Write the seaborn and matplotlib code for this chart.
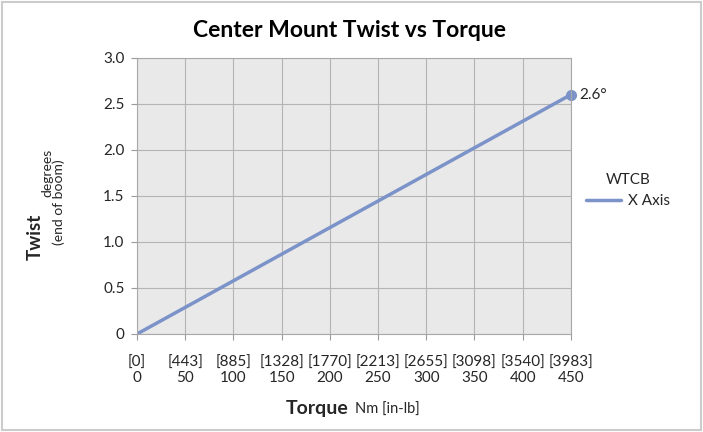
import pandas as pd
import matplotlib.pyplot as plt
import seaborn as sns
from matplotlib.patches import Rectangle

sns.set_style("whitegrid")
plt.rcParams["font.family"] = ["Lato", "DejaVu Sans"]

torque_nm = [0, 450]
twist_deg = [0.0, 2.6]
tick_nm = [0, 50, 100, 150, 200, 250, 300, 350, 400, 450]
tick_inlb = [0, 443, 885, 1328, 1770, 2213, 2655, 3098, 3540, 3983]
y_ticks = [0, 0.5, 1.0, 1.5, 2.0, 2.5, 3.0]
y_labels = ["0", "0.5", "1.0", "1.5", "2.0", "2.5", "3.0"]

df = pd.DataFrame({"Torque": torque_nm, "Twist": twist_deg, "series": "X Axis"})
line_color = "#7b93c8"

fig = plt.figure(figsize=(7.03, 4.32), dpi=100)
ax = fig.add_axes([0.195, 0.227, 0.617, 0.639])
ax.set_facecolor("#e9e9e9")

sns.lineplot(data=df, x="Torque", y="Twist", hue="series", palette=[line_color],
             linewidth=2.5, ax=ax)
ax.plot(torque_nm[-1], twist_deg[-1], "o", color=line_color, markersize=7, clip_on=False)
ax.annotate(f"{twist_deg[-1]}°", (torque_nm[-1], twist_deg[-1]), xytext=(6, 0),
            textcoords="offset points", va="center", ha="left", fontsize=11)

ax.set_xlim(0, 450)
ax.set_ylim(0, 3.0)
ax.set_xticks(tick_nm)
ax.set_xticklabels([f"[{b}]\n{a}" for a, b in zip(tick_nm, tick_inlb)], fontsize=11,
                   linespacing=1.05)
ax.set_yticks(y_ticks)
ax.set_yticklabels(y_labels, fontsize=11)
ax.grid(True, color="#b4b4b4", linewidth=0.8)
ax.tick_params(axis="x", length=4, color="#9a9a9a", direction="out", bottom=True, pad=12)
ax.tick_params(axis="y", length=4, color="#9a9a9a", direction="out", left=True, pad=5)
for s in ax.spines.values():
    s.set_color("#a8a8a8")
    s.set_linewidth(0.8)
ax.set_xlabel("")
ax.set_ylabel("")

leg = ax.legend(title="WTCB", loc="center left", bbox_to_anchor=(1.02, 0.52),
                borderaxespad=0, frameon=False, fontsize=11, title_fontsize=11,
                handlelength=2.3, handletextpad=0.5)

fig.text(0.497, 0.93, "Center Mount Twist vs Torque", ha="center", va="center",
         fontsize=16.5, fontweight="bold", color="black")

fig.text(0.050, 0.451, "Twist", rotation=90, ha="center", va="center",
         fontsize=13.5, fontweight="bold")
fig.text(0.068, 0.600, "degrees", rotation=90, ha="center", va="center", fontsize=10)
fig.text(0.0835, 0.532, "(end of boom)", rotation=90, ha="center", va="center", fontsize=10)

fig.text(0.496, 0.055, "Torque", ha="right", va="center", fontsize=14, fontweight="bold")
fig.text(0.505, 0.052, "Nm [in-lb]", ha="left", va="center", fontsize=10.5)

fig.patches.append(Rectangle((0.003, 0.004), 0.994, 0.992, transform=fig.transFigure,
                             fill=False, edgecolor="#cccccc", linewidth=1.5))

fig.savefig("out.png", dpi=100)
